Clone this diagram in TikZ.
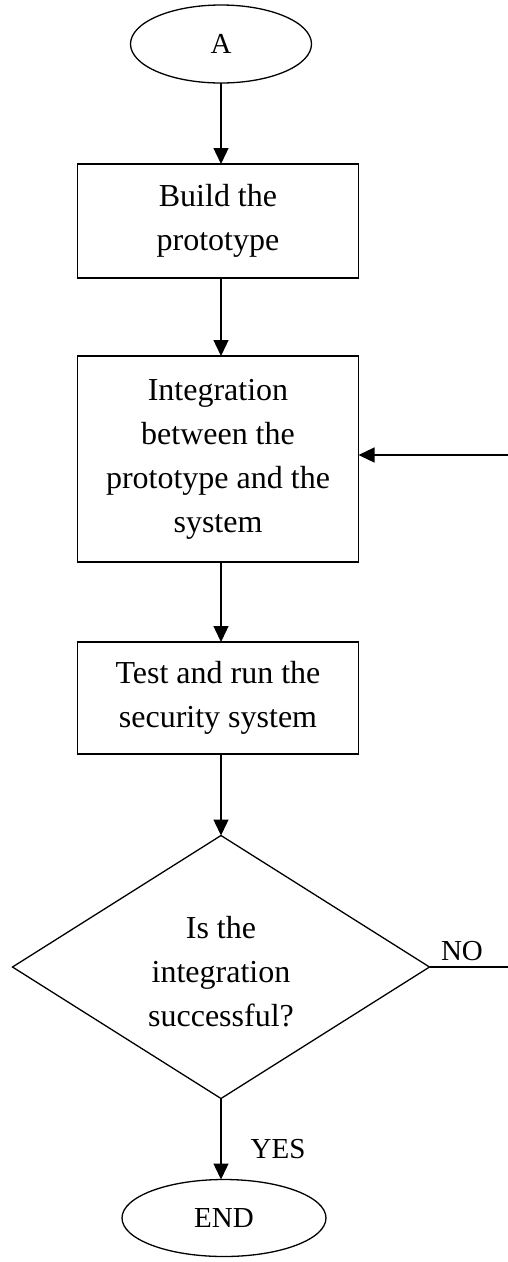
\documentclass[tikz,border=0pt]{standalone}
\usepackage{fontspec}
\setmainfont{Liberation Serif}
\usetikzlibrary{shapes.geometric,arrows.meta}
\begin{document}
\begin{tikzpicture}[x=1pt,y=-1pt,
  every node/.style={inner sep=0pt, outer sep=0pt},
  line/.style={line width=1.3pt},
  arr/.style={line width=1.3pt, -{Triangle[length=16pt,width=15pt]}},
  term/.style={draw, line width=1.3pt, ellipse, font=\fontsize{29}{40}\selectfont},
  proc/.style={draw, line width=1.3pt, rectangle, minimum width=281pt, align=center, font=\fontsize{32}{44}\selectfont},
  dia/.style={draw, line width=1.3pt, diamond, minimum width=417pt, minimum height=263pt},
  txt/.style={align=center, font=\fontsize{32}{44}\selectfont},
  lbl/.style={font=\fontsize{29}{36}\selectfont}
]
\useasboundingbox (0,0) rectangle (508,1262);
\node[term, minimum width=181pt, minimum height=78pt] (A) at (221,44) {A};
\node[proc, minimum height=114pt] (b1) at (218,221) {Build the\\prototype};
\node[proc, minimum height=206pt] (b2) at (218,459) {Integration\\between the\\prototype and the\\system};
\node[proc, minimum height=112pt] (b3) at (218,698) {Test and run the\\security system};
\node[dia] (d) at (221,967) {};
\node[txt] (dt) at (221,972) {Is the\\integration\\successful?};
\node[term, minimum width=204pt, minimum height=77pt] (E) at (224,1218) {END};
\node[lbl] (no) at (462,951) {NO};
\node[lbl] (yes) at (278,1149) {YES};
\coordinate (nr) at (508,967);
\coordinate (ir) at (508,455);

\draw[arr] (A.south) -- (A.south |- b1.north);
\draw[arr] (A.south |- b1.south) -- (A.south |- b2.north);
\draw[arr] (A.south |- b2.south) -- (A.south |- b3.north);
\draw[arr] (A.south |- b3.south) -- (d.north);
\draw[arr] (d.south) -- (d.south |- E.north);
\draw[line] (d.east) -- (nr);
\draw[arr] (ir) -- (ir -| b2.east);
\end{tikzpicture}
\end{document}
